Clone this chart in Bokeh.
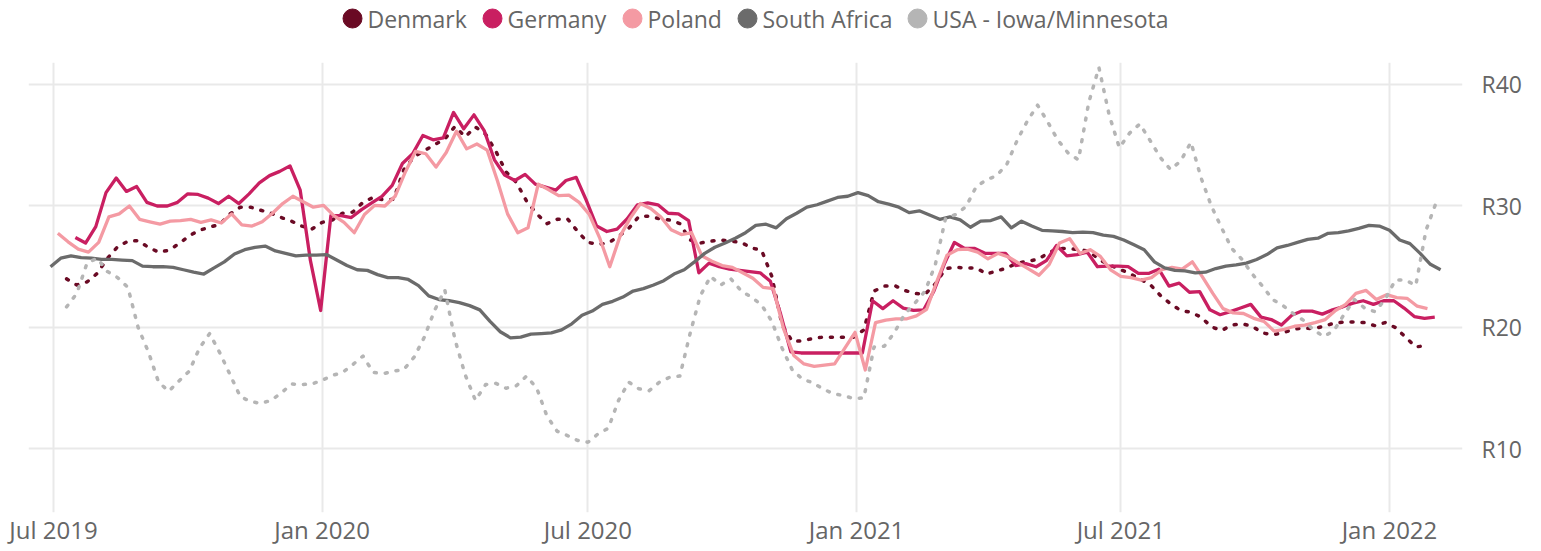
import pandas as pd
from bokeh.plotting import figure
from bokeh.layouts import column
from bokeh.core.properties import value
from bokeh.models import (ColumnDataSource, FixedTicker, DatetimeTickFormatter,
                          PrintfTickFormatter, Range1d)
from bokeh.embed import file_html
from bokeh.resources import INLINE

# ---------------- data (weekly values) ----------------
series_names = ["Denmark", "Germany", "Poland", "South Africa", "USA - Iowa/Minnesota"]
series_colors = ["#6A0A24", "#C91F61", "#F49AA3", "#6B6B6B", "#B5B5B5"]
series_dash = ["dotted", "solid", "solid", "solid", "dotted"]

denmark_start = "2019-07-10"
denmark = [24.0, 23.5, 23.75, 24.45, 25.7, 26.65, 27.1, 27.15, 26.6, 26.2,
           26.35, 26.9, 27.55, 28.0, 28.25, 28.5, 29.35, 29.9, 29.9, 29.65,
           29.4, 29.05, 28.75, 28.35, 28.1, 28.65, 28.85, 29.4, 29.5, 30.3,
           30.7, 30.5, 30.55, 33.0, 34.05, 34.55, 35.05, 35.5, 36.55, 35.7,
           36.5, 35.9, 34.5, 32.8, 31.95, 30.4, 29.35, 28.55, 28.9, 28.95,
           27.9, 27.0, 26.85, 26.95, 27.5, 28.15, 29.15, 29.15, 28.95, 28.85,
           28.55, 27.2, 26.95, 27.1, 27.2, 27.1, 27.0, 26.55, 26.35, 24.2,
           20.2, 18.85, 18.9, 19.1, 19.2, 19.2, 19.2, 19.2, 19.8, 23.0,
           23.4, 23.45, 23.05, 22.8, 22.75, 23.6, 24.85, 24.95, 24.9, 24.9,
           24.4, 24.65, 24.9, 25.3, 25.45, 25.6, 26.1, 26.5, 26.5, 26.4,
           26.3, 25.6, 25.15, 24.8, 24.45, 24.0, 23.55, 22.65, 21.95, 21.4,
           21.25, 20.85, 20.05, 19.75, 20.2, 20.3, 20.1, 19.55, 19.4, 19.55,
           19.85, 19.95, 19.9, 20.1, 20.35, 20.45, 20.45, 20.4, 20.15, 20.4,
           20.0, 19.2, 18.4, 18.5]

germany_start = "2019-07-16"
germany = [27.4, 26.95, 28.3, 31.1, 32.3, 31.2, 31.6, 30.3, 30.0, 30.0,
           30.3, 31.0, 30.95, 30.65, 30.2, 30.8, 30.2, 31.0, 31.9, 32.5,
           32.85, 33.3, 31.3, 25.5, 21.4, 29.2, 29.2, 29.05, 29.7, 30.25,
           30.8, 31.7, 33.5, 34.3, 35.8, 35.45, 35.6, 37.7, 36.35, 37.5,
           36.2, 33.8, 32.55, 32.1, 32.6, 31.8, 31.55, 31.3, 32.1, 32.35,
           30.45, 28.35, 27.9, 28.1, 28.95, 30.1, 30.25, 30.1, 29.4, 29.35,
           28.8, 24.5, 25.3, 25.0, 24.8, 24.7, 24.6, 24.5, 23.8, 21.1,
           18.0, 17.9, 17.9, 17.9, 17.9, 17.9, 17.9, 17.9, 22.2, 21.55,
           22.2, 21.6, 21.4, 21.45, 23.0, 25.2, 27.0, 26.5, 26.5, 26.1,
           26.1, 26.1, 25.1, 25.25, 25.0, 25.5, 26.75, 25.9, 26.0, 26.2,
           25.0, 25.05, 25.05, 25.0, 24.45, 24.45, 24.8, 23.4, 23.65, 22.9,
           22.95, 21.45, 21.05, 21.3, 21.6, 21.9, 20.85, 20.65, 20.2, 21.0,
           21.35, 21.35, 21.1, 21.45, 21.7, 22.0, 22.2, 21.9, 22.2, 22.2,
           21.6, 20.9, 20.75, 20.85]

poland_start = "2019-07-04"
poland = [27.75, 27.05, 26.45, 26.2, 27.0, 29.1, 29.35, 30.0, 28.9, 28.7,
          28.5, 28.75, 28.8, 28.9, 28.65, 28.85, 28.6, 29.35, 28.45, 28.35,
          28.7, 29.4, 30.2, 30.8, 30.35, 29.9, 30.05, 29.2, 28.65, 27.8,
          29.3, 30.05, 30.0, 30.8, 32.8, 34.5, 34.3, 33.2, 34.4, 36.15,
          34.7, 35.1, 34.6, 32.1, 29.35, 27.8, 28.2, 31.8, 31.35, 30.85,
          30.9, 30.3, 29.3, 27.4, 25.0, 27.5, 29.0, 30.2, 29.8, 29.1,
          28.05, 27.65, 27.8, 25.9, 25.45, 25.1, 24.95, 24.5, 24.05, 23.3,
          23.2, 19.9, 17.7, 17.0, 16.8, 16.9, 17.0, 18.3, 19.6, 16.5,
          20.4, 20.6, 20.7, 20.7, 20.95, 21.5, 23.8, 25.95, 26.4, 26.45,
          26.2, 25.65, 26.1, 25.8, 25.3, 24.8, 24.3, 25.2, 26.95, 27.3,
          26.1, 26.4, 25.85, 24.75, 24.2, 24.1, 23.9, 24.1, 24.75, 24.95,
          24.8, 25.4, 24.15, 22.8, 21.55, 21.2, 21.15, 20.75, 20.5, 19.7,
          19.85, 20.1, 20.2, 20.4, 20.65, 21.4, 21.9, 22.8, 23.05, 22.3,
          22.7, 22.45, 22.4, 21.75, 21.55]

south_africa_start = "2019-06-29"
south_africa = [25.0, 25.7, 25.9, 25.75, 25.7, 25.6, 25.6, 25.55, 25.5, 25.05,
                25.0, 25.0, 24.95, 24.75, 24.55, 24.4, 24.9, 25.4, 26.05, 26.4,
                26.6, 26.7, 26.3, 26.1, 25.9, 25.95, 25.95, 26.0, 25.55, 25.1,
                24.75, 24.7, 24.35, 24.1, 24.1, 23.95, 23.45, 22.6, 22.3, 22.2,
                22.05, 21.8, 21.45, 20.5, 19.65, 19.15, 19.2, 19.45, 19.5, 19.55,
                19.8, 20.3, 21.0, 21.35, 21.9, 22.15, 22.5, 23.0, 23.2, 23.5,
                23.85, 24.4, 24.75, 25.4, 26.1, 26.6, 26.95, 27.35, 27.8, 28.4,
                28.5, 28.2, 28.95, 29.4, 29.9, 30.1, 30.4, 30.7, 30.8, 31.1,
                30.85, 30.35, 30.15, 29.9, 29.45, 29.6, 29.25, 28.9, 29.1, 28.85,
                28.25, 28.75, 28.8, 29.1, 28.2, 28.75, 28.35, 28.0, 27.95, 27.9,
                27.8, 27.85, 27.8, 27.6, 27.5, 27.2, 26.8, 26.4, 25.4, 24.9,
                24.7, 24.65, 24.5, 24.55, 24.85, 25.05, 25.15, 25.3, 25.6, 26.0,
                26.55, 26.75, 27.0, 27.25, 27.35, 27.75, 27.8, 27.95, 28.15, 28.4,
                28.35, 28.0, 27.2, 26.9, 26.1, 25.2, 24.75]

usa_start = "2019-07-10"
usa = [21.7, 22.8, 25.3, 25.7, 24.6, 24.1, 23.3, 20.0, 18.0, 15.5,
       14.75, 15.6, 16.4, 18.3, 19.5, 17.9, 16.1, 14.3, 13.9, 13.75,
       14.0, 14.6, 15.35, 15.3, 15.35, 15.65, 16.05, 16.3, 16.95, 17.65,
       16.3, 16.2, 16.4, 16.55, 17.55, 19.2, 21.4, 23.1, 19.0, 16.1,
       14.0, 15.3, 15.4, 15.0, 15.2, 16.0, 15.0, 12.7, 11.45, 11.1,
       10.7, 10.55, 11.25, 11.7, 14.0, 15.5, 14.95, 14.8, 15.5, 15.9,
       16.0, 19.5, 22.6, 24.2, 23.5, 24.0, 23.0, 22.5, 21.85, 20.5,
       18.3, 16.5, 15.75, 15.45, 14.95, 14.55, 14.4, 14.15, 14.2, 18.4,
       18.45, 19.6, 21.1, 22.0, 23.0, 25.2, 29.0, 29.3, 29.95, 31.6,
       32.15, 32.5, 33.45, 35.4, 37.0, 38.3, 36.9, 35.4, 34.35, 33.8,
       38.5, 41.4, 37.5, 34.8, 36.0, 36.75, 35.4, 34.0, 33.0, 33.7,
       35.25, 32.3, 30.0, 28.2, 26.5, 25.6, 24.4, 23.4, 22.3, 21.8,
       21.15, 20.6, 19.8, 19.25, 19.75, 21.1, 22.3, 21.6, 21.3, 22.3,
       23.9, 23.9, 23.45, 28.0, 30.3]

x_tick_dates = ["2019-07-01", "2020-01-01", "2020-07-01", "2021-01-01", "2021-07-01", "2022-01-01"]
y_ticks = [10, 20, 30, 40]

series_values = [denmark, germany, poland, south_africa, usa]
series_starts = [denmark_start, germany_start, poland_start, south_africa_start, usa_start]

# ---------------- styling / layout constants ----------------
FONT = "Open Sans"
TXT = "#666666"
W, H = 1541, 551
LEG_H = 40
BL, BR = 28, 79                                # left / right borders (frame 28..1462)
legend_marker_x = [352, 492, 632, 747, 917]   # layout positions of legend entries (page px)

# ---------------- legend strip ----------------
leg = figure(width=W, height=LEG_H, output_backend="svg", toolbar_location=None,
             x_range=Range1d(BL, W - BR), y_range=Range1d(LEG_H, 0),
             x_axis_location=None, y_axis_location=None,
             min_border_left=BL, min_border_right=BR, min_border_top=0, min_border_bottom=0)
leg.outline_line_color = None
leg.grid.visible = False
leg_src = ColumnDataSource(dict(
    mx=legend_marker_x, tx=[m + 15 for m in legend_marker_x], y=[18] * len(series_names),
    name=series_names, color=series_colors))
leg.scatter("mx", "y", source=leg_src, marker="circle", size=19,
            fill_color="color", line_color="color")
leg.text("tx", "y", text="name", source=leg_src, text_font=value(FONT),
         text_font_size="23px", text_color=TXT, text_baseline="middle", text_align="left")

# ---------------- main chart ----------------
p = figure(width=W, height=H - LEG_H, x_axis_type="datetime", y_axis_location="right",
           output_backend="svg", toolbar_location=None,
           min_border_left=BL, min_border_right=BR, min_border_top=62 - LEG_H, min_border_bottom=39,
           x_range=Range1d(pd.Timestamp("2019-06-13 22:00"), pd.Timestamp("2022-02-20")),
           y_range=Range1d(4.77, 41.81))
p.outline_line_color = None
p.background_fill_color = "white"
p.border_fill_color = "white"

tick_ms = [pd.Timestamp(d).value / 1e6 for d in x_tick_dates]
p.xaxis.ticker = FixedTicker(ticks=tick_ms)
fmt = "%b %Y"
p.xaxis.formatter = DatetimeTickFormatter(years=fmt, months=fmt, days=fmt, hours=fmt,
                                          minutes=fmt, seconds=fmt, milliseconds=fmt,
                                          microseconds=fmt, hourmin=fmt, minsec=fmt)
p.yaxis.ticker = FixedTicker(ticks=y_ticks)
p.yaxis.formatter = PrintfTickFormatter(format="R%d")

for ax in (p.xaxis, p.yaxis):
    ax.axis_line_color = None
    ax.major_tick_line_color = None
    ax.minor_tick_line_color = None
    ax.major_label_text_color = TXT
    ax.major_label_text_font = FONT
p.xaxis.major_label_text_font_size = "24px"
p.yaxis.major_label_text_font_size = "23px"
p.xaxis.major_label_standoff = -6
p.yaxis.major_label_standoff = 13

p.grid.grid_line_color = "#E9E9E9"
p.grid.grid_line_width = 2

for name, color, dash, vals, start in zip(series_names, series_colors, series_dash,
                                          series_values, series_starts):
    dates = pd.date_range(start=start, periods=len(vals), freq="7D")
    src = ColumnDataSource(dict(x=dates, y=vals))
    kw = dict(line_color=color, line_width=3.3, line_join="round")
    if dash == "dotted":
        kw.update(line_dash="2 9", line_cap="round", line_width=3.5)
    p.line("x", "y", source=src, **kw)

layout = column(leg, p, spacing=0)
open("out.html", "w").write(file_html(layout, INLINE))
